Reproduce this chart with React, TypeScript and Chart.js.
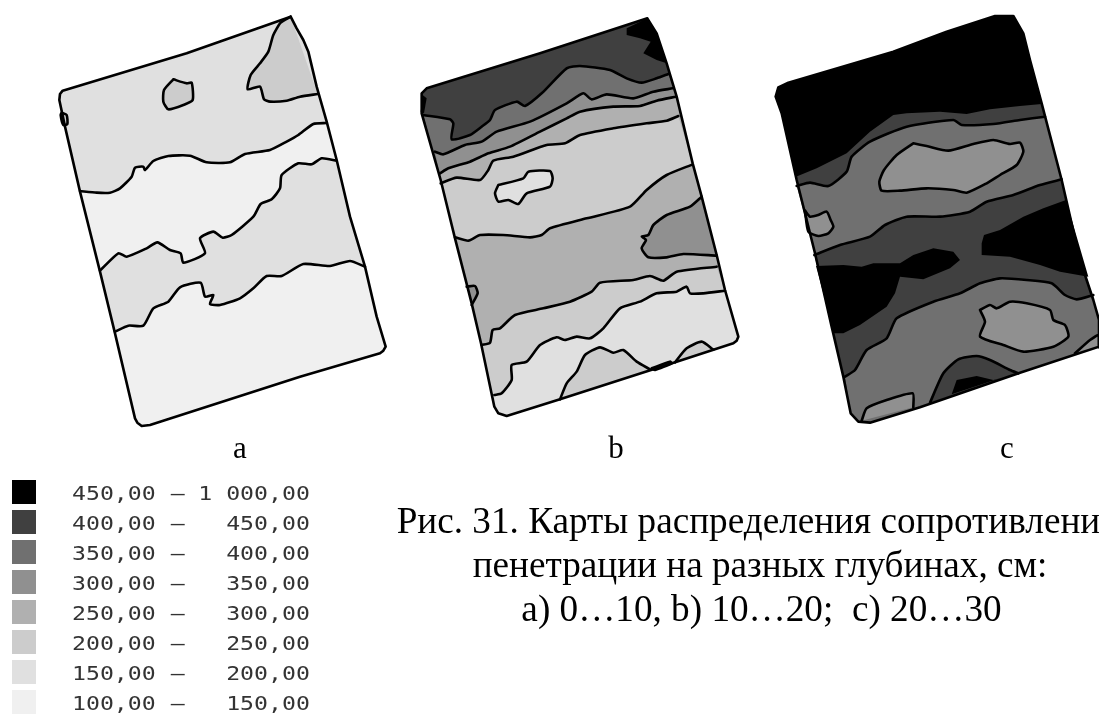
import React, { useEffect, useRef } from "react";
import { Chart, registerables } from "chart.js";
Chart.register(...registerables);

type P = number[];
const G = { k: "#000000", d: "#404040", m: "#707070", g: "#909090", s: "#b0b0b0", c: "#cccccc", e: "#e0e0e0", f: "#f0f0f0" };

// ---- Panel a (map units) ----
const aLower: P = [752,50, 770,85, 790,120, 805,155, 830,260, 860,365, 890,480, 930,650, 975,800, 1010,950, 1037,1040, 1030,1052, 1020,1060, 780,1130, 330,1275, 305,1278, 292,1268, 285,1255, 225,1000, 180,815, 120,575, 75,380, 58,300, 60,282, 68,272, 440,160];
const aCorner: P = [752,50, 722,68, 700,105, 685,155, 660,190, 632,225, 623,268, 660,260, 672,298, 690,305, 740,302, 780,290, 833,282];
const aBlob: P = [400,238, 440,250, 455,248, 458,300, 430,315, 385,328, 370,305, 372,270];
const aSmall: P = [65,338, 80,345, 82,372, 70,375, 62,345];
const aB1: P = [120,573, 170,578, 210,578, 240,565, 275,530, 285,503, 310,500, 315,510, 340,483, 385,468, 450,467, 500,487, 570,487, 615,462, 690,450, 740,425, 775,405, 820,372, 860,369];
const aB2: P = [180,812, 235,760, 260,770, 320,745, 352,727, 390,750, 422,760, 430,788, 495,760, 480,715, 520,695, 548,713, 575,705, 640,650, 662,612, 695,598, 720,565, 725,525, 775,490, 815,493, 845,475, 890,482];
const aB3: P = [225,995, 265,977, 310,977, 340,925, 385,905, 420,862, 482,848, 495,890, 520,885, 510,912, 540,915, 600,895, 640,865, 680,828, 725,828, 790,792, 870,798, 930,783, 975,800];

// ---- Panel b ----
const bLower: P = [742,55, 770,100, 800,190, 830,290, 878,490, 905,590, 950,765, 975,870, 1015,1010, 1010,1022, 1000,1030, 830,1085, 480,1198, 320,1248, 295,1240, 283,1220, 243,1030, 215,910, 165,715, 122,540, 65,340, 65,280, 80,265, 420,160];
const bCorner: P = [742,55, 680,85, 680,105, 720,115, 752,125, 730,160, 770,180, 800,190, 770,100];
const bTiny: P = [68,285, 80,295, 72,340, 62,335];
const bB1: P = [70,345, 150,358, 160,370, 155,418, 210,405, 245,380, 270,360, 285,330, 350,305, 375,318, 425,280, 500,205, 540,198, 630,210, 680,235, 725,248, 770,235, 805,222];
const bB2: P = [105,455, 130,463, 195,435, 245,425, 290,395, 390,365, 500,310, 550,280, 575,298, 620,283, 700,295, 760,275, 818,265];
const bB3: P = [120,520, 145,505, 210,485, 265,460, 330,440, 420,395, 500,355, 540,335, 640,320, 720,318, 770,302, 828,290];
const bB4: P = [122,550, 170,533, 240,540, 265,510, 280,482, 340,470, 440,435, 495,430, 540,405, 640,385, 740,370, 800,362, 835,348];
const bB5: P = [165,712, 205,722, 240,705, 310,705, 390,712, 425,705, 450,685, 560,655, 690,620, 740,570, 800,525, 878,493];
const bRight: P = [905,590, 870,620, 800,645, 760,675, 745,705, 725,710, 738,720, 725,745, 745,772, 800,772, 850,762, 950,767];
const bHole: P = [295,555, 370,535, 385,515, 450,513, 458,535, 450,560, 380,580, 355,612, 325,600, 295,605, 285,580];
const bLeft: P = [200,860, 225,858, 233,880, 215,915];
const bB6: P = [245,1035, 270,1028, 278,990, 300,985, 345,945, 430,925, 510,905, 575,875, 600,848, 700,840, 750,828, 790,842, 830,815, 950,800];
const bB7: P = [283,1185, 305,1180, 335,1140, 335,1095, 380,1085, 420,1035, 470,1012, 495,1020, 530,1010, 570,1015, 610,985, 660,925, 720,905, 770,880, 830,875, 860,860, 870,880, 910,880, 975,872];
const bBottom1: P = [480,1198, 500,1150, 530,1115, 555,1065, 600,1042, 640,1058, 670,1050, 710,1085, 750,1108];
const bBottom2: P = [825,1087, 860,1045, 905,1025, 940,1049];
const bSliver: P = [755,1105, 810,1085, 815,1090, 765,1110];

// ---- Panel c ----
const cLower: P = [760,48, 790,100, 810,180, 845,310, 905,540, 960,780, 1000,900, 1017,960, 1017,1040, 780,1118, 480,1222, 330,1268, 295,1265, 272,1240, 250,1130, 215,980, 165,760, 110,540, 65,340, 47,290, 55,262, 85,248, 400,155, 560,95, 705,48];
const cB1: P = [108,530, 170,505, 260,460, 330,395, 400,345, 440,340, 540,335, 620,342, 690,328, 780,318, 845,312];
const cB2: P = [110,558, 150,548, 205,558, 260,515, 275,470, 330,425, 440,380, 580,360, 605,375, 700,372, 780,360, 855,350];
const cBig: P = [460,430, 500,438, 565,452, 640,432, 700,420, 750,432, 780,428, 790,455, 770,495, 720,525, 680,550, 620,578, 580,570, 500,565, 420,572, 365,572, 358,545, 372,510, 410,465];
const cSmall: P = [135,632, 150,650, 175,645, 200,635, 212,660, 220,680, 205,700, 175,708, 145,695];
const cB3: P = [163,765, 240,735, 330,710, 375,675, 440,650, 540,650, 630,635, 680,605, 760,585, 840,555, 905,538];
const cDarkL: P = [168,798, 250,795, 305,800, 340,790, 420,790, 460,765, 520,745, 580,755, 600,780, 570,805, 490,838, 420,830, 405,880, 380,920, 300,975, 250,1000, 222,1000];
const cDarkR: P = [672,705, 720,690, 790,650, 850,625, 918,600, 985,830, 900,815, 840,795, 750,770, 665,765, 665,730];
const cB4: P = [255,1130, 285,1110, 320,1050, 380,1015, 410,955, 520,905, 600,880, 660,850, 720,835, 800,840, 875,850, 915,885, 950,898, 1000,885];
const cLow: P = [660,930, 690,915, 710,925, 750,905, 800,910, 870,930, 880,960, 915,975, 925,1010, 880,1040, 790,1055, 730,1035, 660,1010, 675,965];
const cCorner: P = [945,1060, 990,1020, 1017,1005, 1017,1042];
const cFoot: P = [305,1262, 320,1225, 380,1200, 458,1180, 460,1222];
const cDarkB: P = [510,1208, 550,1120, 595,1078, 650,1068, 690,1080, 750,1110, 775,1120];
const cInner: P = [575,1183, 590,1140, 650,1128, 700,1140, 720,1135];

// ---- Legend ----
const legendColors = [G.k, G.d, G.m, G.g, G.s, G.c, G.e, G.f];
const legendFrom = ["450,00", "400,00", "350,00", "300,00", "250,00", "200,00", "150,00", "100,00"];
const legendTo = ["1 000,00", "450,00", "400,00", "350,00", "300,00", "250,00", "200,00", "150,00"];
const panelLabels = ["a", "b", "c"];
const caption = [
  "Рис. 31. Карты распределения сопротивления",
  "пенетрации на разных глубинах, см:",
  "а) 0…10, b) 10…20;  c) 20…30",
];

const W = 1099, H = 714;
const pts = (a: P) => {
  const r: { x: number; y: number }[] = [];
  for (let i = 0; i < a.length; i += 2) r.push({ x: a[i], y: a[i + 1] });
  return r;
};
const close = (a: P) => [...a, a[0], a[1]];
const below = (b: P, path: P) => {
  const sy = b[1], ey = b[b.length - 1];
  const p = pts(path);
  const first = p.findIndex((q) => q.y > ey);
  let last = p.length - 1;
  while (last > 0 && p[last].y <= sy) last--;
  const out = [...b];
  for (let i = first; i <= last; i++) out.push(p[i].x, p[i].y);
  return close(out);
};

const NONE = "rgba(0,0,0,0)";
type Layer = { poly: P; fill?: string; line?: boolean; tension?: number };
// filled polygon without a stroke
const area = (poly: P, fill: string): Layer => ({ poly, fill });
// a boundary drawn as an open curve
const rim = (poly: P): Layer => ({ poly, line: true, tension: 0.2 });
// region under a boundary
const band = (b: P, lower: P, fill: string, stroke = true): Layer[] =>
  stroke ? [area(below(b, lower), fill), rim(b)] : [area(below(b, lower), fill)];
// region cut off by the field's edge
const edge = (b: P, fill: string): Layer[] => [area(close(b), fill), rim(b)];
// free-standing closed patch
const blob = (b: P, fill: string): Layer[] => [
  { poly: close(b), fill, line: true, tension: 0.2 },
];
const frame = (lower: P): Layer => ({ poly: close(lower), line: true });

const panel = (id: string, layers: Layer[]) =>
  layers.map(({ poly, fill, line, tension }) => ({
    data: pts(poly),
    xAxisID: "x" + id,
    yAxisID: "y",
    showLine: true,
    pointRadius: 0,
    borderWidth: line ? 2.6 : 0,
    borderColor: line ? "#000000" : NONE,
    borderJoinStyle: "round",
    borderCapStyle: "round",
    backgroundColor: fill ?? NONE,
    fill: fill ? "shape" : false,
    tension: tension ?? 0,
  }));

const layersA: Layer[] = [
  area(close(aLower), G.e),
  ...edge(aCorner, G.c),
  ...blob(aBlob, G.c),
  ...blob(aSmall, G.c),
  ...band(aB1, aLower, G.f),
  ...band(aB2, aLower, G.e),
  ...band(aB3, aLower, G.f),
  frame(aLower),
];
const layersB: Layer[] = [
  area(close(bLower), G.d),
  area(close(bCorner), G.k),
  area(close(bTiny), G.k),
  ...band(bB1, bLower, G.m),
  ...band(bB2, bLower, G.g),
  ...band(bB3, bLower, G.s),
  ...band(bB4, bLower, G.c),
  ...blob(bHole, G.e),
  ...band(bB5, bLower, G.s),
  ...edge(bRight, G.g),
  ...edge(bLeft, G.g),
  ...band(bB6, bLower, G.c),
  ...band(bB7, bLower, G.e),
  ...edge(bBottom1, G.c),
  ...edge(bBottom2, G.c),
  ...blob(bSliver, G.c),
  frame(bLower),
];
const layersC: Layer[] = [
  area(close(cLower), G.k),
  ...band(cB1, cLower, G.d, false),
  ...band(cB2, cLower, G.m),
  ...blob(cBig, G.g),
  ...blob(cSmall, G.g),
  ...band(cB3, cLower, G.d),
  area(close(cDarkL), G.k),
  area(close(cDarkR), G.k),
  ...band(cB4, cLower, G.m),
  ...blob(cLow, G.g),
  ...edge(cCorner, G.g),
  ...edge(cFoot, G.g),
  ...edge(cDarkB, G.d),
  area(close(cInner), G.k),
  frame(cLower),
];

const textPlugin = {
  id: "texts",
  afterDraw(chart: any) {
    const c = chart.ctx as CanvasRenderingContext2D;
    c.save();
    c.fillStyle = "#000000";
    c.textBaseline = "alphabetic";
    c.font = '31px "Liberation Serif"';
    c.textAlign = "center";
    [240, 616, 1007].forEach((x, i) => c.fillText(panelLabels[i], x, 458));
    c.font = '37.2px "Liberation Serif"';
    caption.forEach((t, i) => c.fillText(t, [757, 760, 761.5][i], [533, 577, 621][i]));
    c.fillStyle = "#333333";
    c.font = '19px "DejaVu Sans Mono"';
    legendFrom.forEach((f, i) => {
      const y = 500 + i * 30;
      c.save();
      c.translate(72, y);
      c.scale(1.22, 1);
      c.textAlign = "left";
      c.fillText(f, 0, 0);
      c.fillText("–", 81, 0);
      c.textAlign = "right";
      c.fillText(legendTo[i], 195, 0);
      c.restore();
    });
    c.restore();
  },
};

export default function App() {
  const ref = useRef<HTMLCanvasElement>(null);
  useEffect(() => {
    const legendSet = {
      data: legendColors.map((_, i) => ({ x: 24, y: 492 + i * 30 })),
      xAxisID: "xL",
      yAxisID: "yL",
      showLine: false,
      pointStyle: "rect",
      pointRadius: 17,
      pointHoverRadius: 17,
      pointBorderWidth: 0,
      pointBackgroundColor: legendColors,
    };
    const groups = [...panel("A", layersA), ...panel("B", layersB), ...panel("C", layersC), legendSet];
    const hidden = { display: false };
    const chart = new Chart(ref.current!, {
      type: "scatter",
      data: { datasets: [...groups].reverse() as any },
      options: {
        animation: false,
        responsive: false,
        layout: { padding: 0, autoPadding: false },
        plugins: { legend: { display: false }, tooltip: { enabled: false }, title: { display: false } },
        scales: {
          xA: { ...hidden, type: "linear", min: -120, max: (W - 40) * 3 },
          xB: { ...hidden, type: "linear", min: -1200, max: (W - 400) * 3 },
          xC: { ...hidden, type: "linear", min: -2280, max: (W - 760) * 3 },
          y: { ...hidden, type: "linear", min: 0, max: H * 3, reverse: true },
          xL: { ...hidden, type: "linear", min: 0, max: W },
          yL: { ...hidden, type: "linear", min: 0, max: H, reverse: true },
        },
      } as any,
      plugins: [textPlugin],
    });
    return () => chart.destroy();
  }, []);
  return (
    <div style={{ position: "fixed", left: 0, top: 0, width: W, height: H, background: "#fff", overflow: "hidden" }}>
      <canvas ref={ref} width={W} height={H} style={{ display: "block", width: W, height: H }} />
    </div>
  );
}
